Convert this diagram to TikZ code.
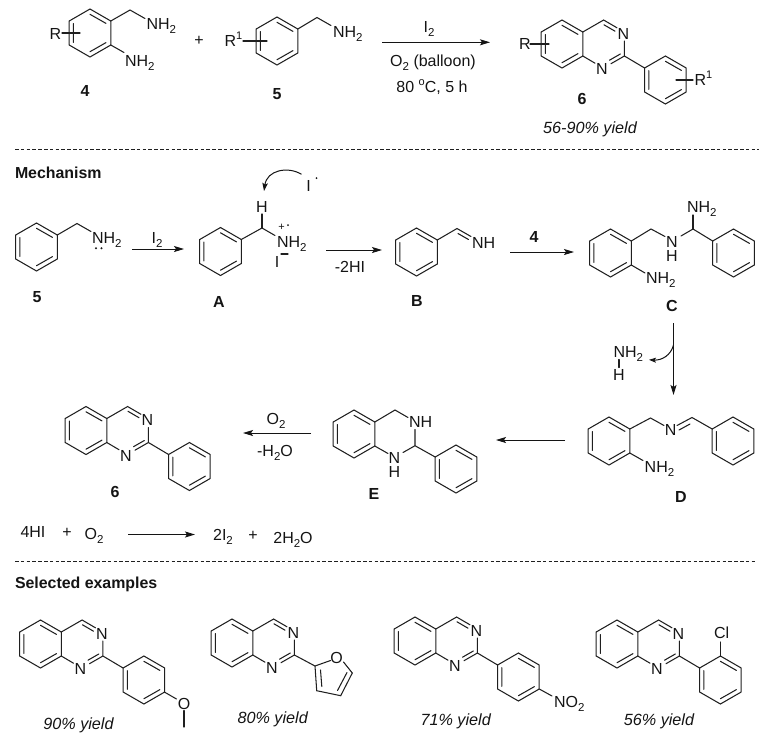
\documentclass[tikz,border=0pt]{standalone}
\usepackage{fontspec}
\setmainfont{Liberation Sans}
\usetikzlibrary{arrows.meta}
\newcommand\sbs[1]{\raisebox{-0.26em}{\fontsize{11.5}{11.5}\selectfont #1}}
\newcommand\sps[1]{\raisebox{0.42em}{\fontsize{11}{11}\selectfont #1}}
\tikzset{
  bond/.style={line width=1.05pt,line join=miter,line cap=round,draw=black!88},
  rxn/.style={line width=0.9pt,draw=black!92,-{Stealth[length=10pt,width=6pt,inset=2pt]}},
  curly/.style={line width=1pt,draw=black!92},
  sep/.style={line width=0.9pt,draw=black!88,dash pattern=on 3.6pt off 2.2pt},
  lab/.style={inner sep=0pt,outer sep=0pt,anchor=base west,font=\fontsize{16}{18}\selectfont,text=black!92},
  cen/.style={inner sep=0pt,outer sep=0pt,anchor=base,font=\fontsize{16}{18}\selectfont,text=black!92},
  bld/.style={cen,font=\fontsize{16}{18}\selectfont\bfseries},
  head/.style={inner sep=0pt,outer sep=0pt,anchor=base west,text=black!92,font=\fontsize{15.9}{18}\selectfont\bfseries},
  yld/.style={cen,font=\fontsize{16.2}{18}\selectfont\itshape},
}
% baseline is 5.7 below the centre of the capitals
\newcommand\Lab[4]{\node[lab] (#1) at (#2,#3+5.7) {#4};}
\newcommand\Cen[4]{\node[cen] (#1) at (#2,#3+5.7) {#4};}
\newcommand\Bld[4]{\node[bld] (#1) at (#2,#3+5.7) {#4};}
\newcommand\Yld[4]{\node[yld] (#1) at (#2,#3+5.7) {#4};}
% benzene ring, pointy top
\newcommand\ring[2]{%
  \begin{scope}[shift={(#1,#2)}]
    \draw[bond] (0,-24)--(20.8,-12)--(20.8,12)--(0,24)--(-20.8,12)--(-20.8,-12)--cycle;
    \draw[bond] (0,-18.7)--(16,-9.6) (-16.6,-9.4)--(-16.6,9.4) (0,18.7)--(16,9.6);
  \end{scope}}
% quinazoline
\newcommand\quin[3]{%
  \ring{#2}{#3}
  \begin{scope}[shift={(#2,#3)}]
    \draw[bond] (20.8,-12)--(41.6,-24)--(55,-16.2) (42,-19.2)--(53,-12.8);
    \draw[bond] (62.4,-3)--(62.4,12)--(49,19.7) (58.3,10)--(47.5,16.2);
    \draw[bond] (33,19.2)--(20.8,12);
    \node[cen] (#1N3) at (61.5,-5) {N};
    \node[cen] (#1N1) at (40,30.7) {N};
  \end{scope}}
% 2-phenylquinazoline
\newcommand\quinph[3]{%
  \quin{#1}{#2}{#3}
  \begin{scope}[shift={(#2,#3)}]
    \draw[bond] (62.4,12)--(82.6,24);
  \end{scope}
  \ring{#2+103.4}{#3+36}}
\begin{document}
\begin{tikzpicture}[x=1pt,y=-1pt]
\useasboundingbox (0,0) rectangle (768,740);
% ---- top scheme
\ring{90}{33}
\draw[bond] (110.8,21)--(130,10)--(145,18.5);
\draw[bond] (110.8,45)--(124,52.5);
\draw[bond] (62,33)--(80,33);
\Lab{r4}{49.5}{34}{R}
\Lab{nhA}{146.5}{24}{NH\sbs{2}}
\Lab{nhB}{125}{61}{NH\sbs{2}}
\Bld{l4}{85}{91}{4}
\Cen{plusA}{199}{40}{+}
\ring{277}{41}
\draw[bond] (297.8,29)--(317,17.5)--(331,25.5);
\draw[bond] (243,41)--(267,41);
\Lab{r5}{224.5}{41}{R\sps{1}}
\Lab{nhC}{333}{32}{NH\sbs{2}}
\Bld{l5}{277}{94}{5}
\coordinate (a1s) at (382,42.3); \coordinate (a1e) at (490,42.3);
\draw[rxn] (a1s)--(a1e);
\Cen{i2}{429}{27}{I\sbs{2}}
\Cen{o2b}{433}{61}{O\sbs{2} (balloon)}
\Cen{t80}{432}{87}{80 \sps{o}C, 5 h}
\quinph{qa}{562}{44}
\draw[bond] (530,44)--(549,44);
\draw[bond] (676,80)--(693,80);
\Lab{r6}{519}{44}{R}
\Lab{r16}{694.5}{80}{R\sps{1}}
\Bld{l6}{582}{99}{6}
\Yld{ya}{590}{128}{56-90\% yield}
\coordinate (d1s) at (15,149.5); \coordinate (d1e) at (759,149.5);
\draw[sep] (d1s)--(d1e);
% ---- mechanism
\node[head] (mechT) at (15,178) {Mechanism};
% 5
\ring{36.5}{247}
\draw[bond] (57.3,235)--(77,223.5)--(91,231.5);
\Lab{nhD}{92}{238}{NH\sbs{2}}
\fill[black!90] (96,248.3) circle (1.1) (101.5,248.3) circle (1.1);
\Bld{lm5}{37}{297}{5}
\coordinate (a2s) at (132,249); \coordinate (a2e) at (184,249);
\draw[rxn] (a2s)--(a2e);
\Cen{i2m}{157}{238}{I\sbs{2}}
% A
\ring{220.5}{251.5}
\draw[bond] (241.3,239.5)--(262,228)--(275,235.5);
\draw[bond] (262,228)--(262,214);
\Cen{hA}{262}{207}{H}
\Lab{nhE}{277}{242}{NH\sbs{2}}
\Cen{plA}{281.5}{224.5}{\fontsize{11}{11}\selectfont +}
\fill[black!90] (288,225) circle (1);
\Cen{iA}{277}{262}{I}
\draw[bond] (281,254)--(288,254);
\coordinate (c1s) at (301.5,174.3); \coordinate (c1e) at (264,191);
\draw[curly,-{Stealth[length=8pt,width=5.5pt,inset=1.5pt]}] (c1s) .. controls (288,166) and (267,170) .. (c1e);
\Cen{iR}{308.5}{186}{I}
\fill[black!90] (316.5,178) circle (1);
\Bld{lA}{219}{302}{A}
\coordinate (a3s) at (326,250); \coordinate (a3e) at (382,250);
\draw[rxn] (a3s)--(a3e);
\Cen{hi}{350}{267}{-2HI}
% B
\ring{416.5}{252}
\draw[bond] (437.3,240)--(457,228.5)--(471,236.5) (458,233.5)--(468.5,239.5);
\Lab{nhF}{472}{243}{NH}
\Bld{lB}{417}{301}{B}
\coordinate (a4s) at (510,252); \coordinate (a4e) at (574,252);
\draw[rxn] (a4s)--(a4e);
\Bld{l4m}{534}{237}{4}
% C
\ring{610.5}{253}
\ring{733.5}{253}
\draw[bond] (631.3,241)--(651,229)--(665,236.5);
\draw[bond] (681,236)--(693,229)--(712.7,241);
\draw[bond] (693,229)--(693,215);
\draw[bond] (631.3,265)--(645,273);
\Cen{nC}{672}{241.5}{N}
\Cen{hC}{672}{256}{H}
\Lab{nhG}{687}{207}{NH\sbs{2}}
\Lab{nhH}{646}{277.5}{NH\sbs{2}}
\Bld{lC}{672}{306}{C}
\coordinate (a5s) at (673.5,323); \coordinate (a5e) at (673.5,395);
\draw[rxn] (a5s)--(a5e);
\Lab{nhI}{613.5}{352}{NH\sbs{2}}
\Cen{hOut}{619}{375}{H}
\draw[bond] (619,359.5)--(619,367.5);
\coordinate (c2s) at (673.5,345); \coordinate (c2e) at (649,359.8);
\draw[curly,-{Stealth[length=7pt,width=5pt,inset=1.5pt]}] (c2s) .. controls (671,355) and (662,360.5) .. (c2e);
% D
\ring{609}{441}
\ring{733}{441}
\draw[bond] (629.8,429)--(650.5,418)--(664,425.5);
\draw[bond] (677,425.5)--(692,417.5)--(712.2,429) (679,430)--(690,424);
\draw[bond] (629.8,453)--(643,460.5);
\Cen{nD}{670.7}{430}{N}
\Lab{nhJ}{644.7}{466.7}{NH\sbs{2}}
\Bld{lD}{681}{497}{D}
\coordinate (a6s) at (565,440); \coordinate (a6e) at (496,440);
\draw[rxn] (a6s)--(a6e);
% E
\ring{354}{434}
\ring{456}{469}
\draw[bond] (374.8,422)--(395,410)--(408,417.5);
\draw[bond] (415,429.5)--(415,445.7)--(435.2,457);
\draw[bond] (415,445.7)--(403,452.5);
\draw[bond] (374.8,446)--(388,453.5);
\Lab{nhK}{409}{421.7}{NH}
\Cen{nE}{394.5}{457.5}{N}
\Cen{hE}{394.5}{472}{H}
\Bld{lE}{374}{494}{E}
\coordinate (a7s) at (311,433); \coordinate (a7e) at (243,433);
\draw[rxn] (a7s)--(a7e);
\Cen{o2m}{276}{419}{O\sbs{2}}
\Cen{hoh}{275}{451}{-H\sbs{2}O}
% 6
\quinph{qb}{86}{430.5}
\Bld{lm6}{115}{492}{6}
% equation
\Cen{hiE}{33}{532}{4HI}
\Cen{plE}{67}{531.5}{+}
\Cen{o2E}{94}{534}{O\sbs{2}}
\coordinate (a8s) at (128,534.5); \coordinate (a8e) at (195,534.5);
\draw[rxn] (a8s)--(a8e);
\Cen{iE}{223}{535}{2I\sbs{2}}
\Cen{plF}{253}{534.5}{+}
\Cen{wE}{293}{537.5}{2H\sbs{2}O}
\coordinate (d2s) at (15,561); \coordinate (d2e) at (755,561);
\draw[sep] (d2s)--(d2e);
% ---- examples
\node[head] (selT) at (15,588.5) {Selected examples};
\quinph{qc}{40.5}{644}
\draw[bond] (164.3,692)--(176.5,699);
\draw[bond] (184,710.5)--(184,727);
\Cen{oC}{184}{704}{O}
\Yld{yc}{78.5}{724}{90\% yield}
\quin{qd}{232}{643}
\draw[bond] (294.4,655)--(315,666)--(330.5,660.5);
\draw[bond] (343.5,662)--(352.3,673)--(340.7,695.7)--(316.7,690.7)--(315,666);
\draw[bond] (320.5,670)--(321.8,686.5) (337.5,690.5)--(347,672.5);
\Cen{oD}{336.7}{658}{O}
\Yld{yd}{272.7}{718}{80\% yield}
\quinph{qe}{415}{641}
\draw[bond] (539.3,689)--(552,696);
\Lab{no}{554}{702}{NO\sbs{2}}
\Yld{ye}{455.7}{720}{71\% yield}
\quinph{qf}{617}{644}
\draw[bond] (720.5,656)--(720.5,642);
\Cen{cl}{721.7}{632.7}{Cl}
\Yld{yf}{659}{720}{56\% yield}
\end{tikzpicture}
\end{document}
